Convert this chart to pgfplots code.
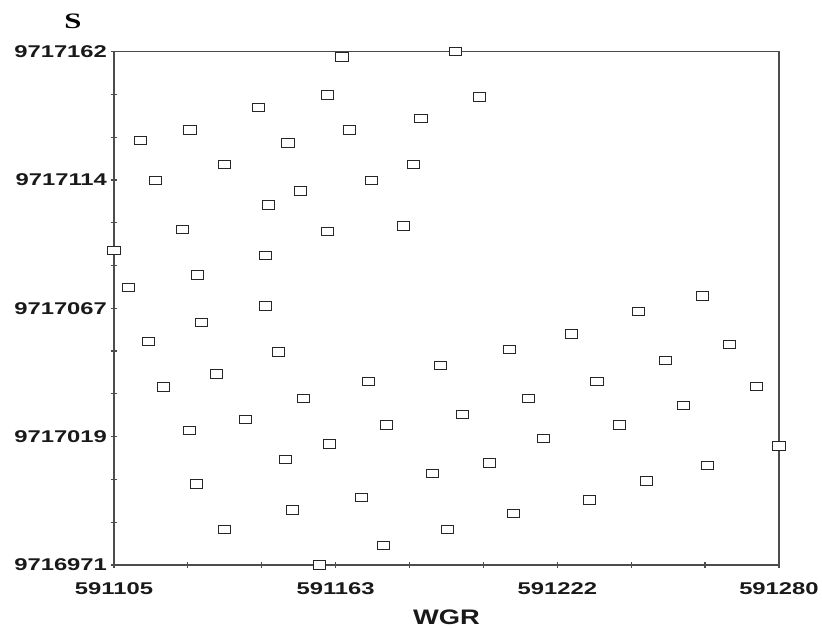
\documentclass[border=0pt]{standalone}
\usepackage{pgfplots}
\pgfplotsset{compat=1.18}
\usepackage{pgfplotstable}
\usepackage{fontspec}
\setmainfont{Liberation Sans}
\newfontfamily\labfont{Liberation Sans}
\newfontfamily\serifbold{Liberation Serif}
\usepackage{graphicx}
\newcommand{\tl}[1]{\scalebox{1.4}[1]{\labfont\bfseries #1}}

\pgfplotstableread{
x y
591112.0 9717128.9
591125.0 9717132.9
591143.0 9717141.2
591161.1 9717145.9
591165.0 9717160.1
591116.0 9717114.0
591134.0 9717120.0
591150.8 9717128.1
591154.0 9717110.1
591145.7 9717105.0
591123.1 9717095.9
591161.1 9717095.2
591105.0 9717088.0
591144.9 9717086.1
591126.9 9717078.9
591108.9 9717074.3
591144.9 9717067.3
591194.8 9717162.0
591201.1 9717145.1
591185.8 9717137.2
591166.9 9717132.9
591183.8 9717120.0
591172.8 9717114.0
591181.1 9717097.1
591259.9 9717071.1
591243.1 9717065.3
591128.1 9717061.3
591114.0 9717054.1
591148.2 9717050.3
591132.0 9717042.1
591118.0 9717037.3
591154.8 9717032.9
591139.7 9717025.1
591124.9 9717021.1
591161.8 9717016.0
591150.1 9717010.2
591126.8 9717001.1
591152.0 9716991.4
591134.0 9716984.1
591159.1 9716971.0
591172.0 9717039.2
591176.8 9717023.1
591190.9 9717045.2
591209.0 9717051.1
591225.5 9717057.0
591196.8 9717027.1
591214.0 9717032.9
591218.0 9717018.0
591203.8 9717009.0
591188.9 9717005.0
591170.1 9716996.0
591210.1 9716990.1
591192.8 9716984.1
591176.0 9716978.2
591266.9 9717053.0
591250.1 9717047.2
591232.1 9717039.2
591274.0 9717037.4
591254.8 9717030.3
591238.0 9717023.1
591280.0 9717015.3
591261.1 9717008.1
591245.1 9717002.3
591230.1 9716995.2
}\pts

\begin{document}
\begin{tikzpicture}
\begin{axis}[
  scale only axis, width=665pt, height=513.3pt,
  xmin=591105, xmax=591280, ymin=9716971, ymax=9717162,
  scaled ticks=false,
  xtick={591105,591163.3333,591221.6667,591280},
  xticklabels={\tl{591105},\tl{591163},\tl{591222},\tl{591280}},
  ytick={9716971,9717018.75,9717066.5,9717114.25,9717162},
  yticklabels={\tl{9716971},\tl{9717019},\tl{9717067},\tl{9717114},\tl{9717162}},
  minor x tick num=2, minor y tick num=2,
  tick pos=left, tick align=center,
  major tick length=7pt, minor tick length=7pt,
  axis line style={color=black!70, line width=1.2pt},
  every tick/.style={black!70, line width=1.2pt},
  ticklabel style={font=\fontsize{17}{17}\selectfont\bfseries, text=black!90},
  xticklabel style={anchor=base, yshift=-26pt},
  xlabel={\scalebox{1.3}[1]{WGR}},
  xlabel style={at={(rel axis cs:0.5,0)}, anchor=base, yshift=-60pt, font=\fontsize{21}{21}\selectfont\bfseries, text=black!90},
  clip=false,
]
\addplot[only marks, mark=square*, mark size=4.2pt,
  mark options={fill=white, draw=black!85, line width=1pt, xscale=1.45}]
  table[x=x, y=y] {\pts};
\node[anchor=base, font=\serifbold\fontsize{22}{22}\selectfont\bfseries]
  at ([xshift=-41pt,yshift=23.4pt]rel axis cs:0,1) {\scalebox{1.4}[1]{S}};
\end{axis}
\path ([shift={(-114pt,-63pt)}]current axis.south west) rectangle ++(822pt,628pt);
\end{tikzpicture}
\end{document}
